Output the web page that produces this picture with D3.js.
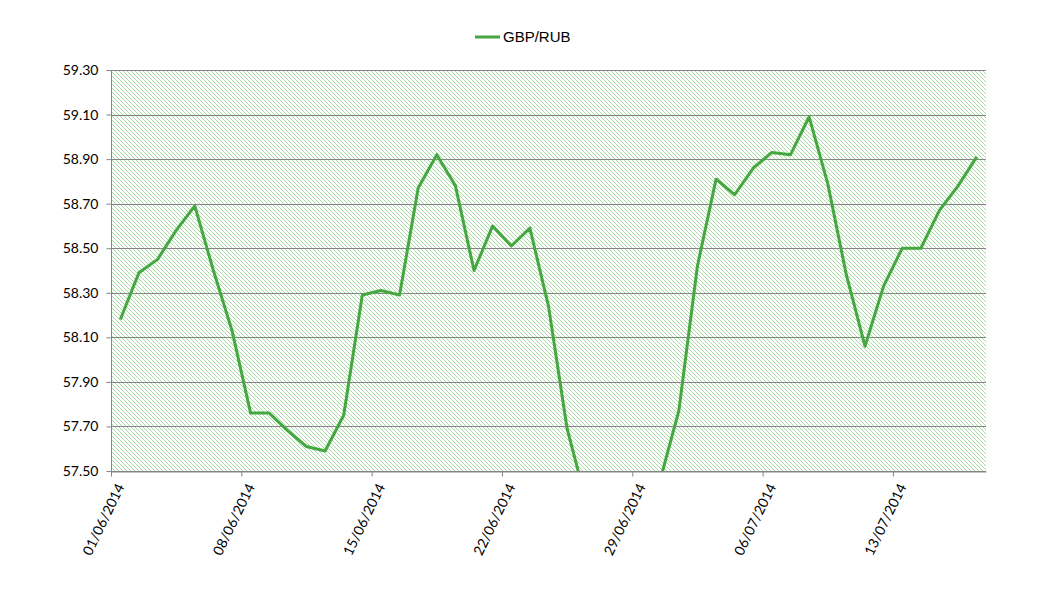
<!DOCTYPE html>
<html><head><meta charset="utf-8">
<script src="https://cdn.jsdelivr.net/npm/d3@7"></script>
<style>body{margin:0;background:#fff}svg{display:block}</style>
</head><body><svg id="c" width="1056" height="599"></svg>
<script>
const dates = ["01/06/2014","02/06/2014","03/06/2014","04/06/2014","05/06/2014","06/06/2014","07/06/2014","08/06/2014","09/06/2014","10/06/2014","11/06/2014","12/06/2014","13/06/2014","14/06/2014","15/06/2014","16/06/2014","17/06/2014","18/06/2014","19/06/2014","20/06/2014","21/06/2014","22/06/2014","23/06/2014","24/06/2014","25/06/2014","26/06/2014","27/06/2014","28/06/2014","29/06/2014","30/06/2014","01/07/2014","02/07/2014","03/07/2014","04/07/2014","05/07/2014","06/07/2014","07/07/2014","08/07/2014","09/07/2014","10/07/2014","11/07/2014","12/07/2014","13/07/2014","14/07/2014","15/07/2014","16/07/2014","17/07/2014"];
const gbpRub = [58.18,58.39,58.45,58.58,58.69,58.40,58.13,57.76,57.76,57.68,57.61,57.59,57.75,58.29,58.31,58.29,58.77,58.92,58.78,58.40,58.60,58.51,58.59,58.24,57.69,57.37,57.25,57.20,57.25,57.46,57.77,58.42,58.81,58.74,58.86,58.93,58.92,59.09,58.79,58.38,58.06,58.33,58.50,58.50,58.67,58.78,58.91];
const yTicks = [57.5,57.7,57.9,58.1,58.3,58.5,58.7,58.9,59.1,59.3];
const xTickLabels = ["01/06/2014","08/06/2014","15/06/2014","22/06/2014","29/06/2014","06/07/2014","13/07/2014"];
const seriesName = "GBP/RUB";

const svg = d3.select("#c");
const L=111, R=986, T=70, B=471;
const parse = d3.timeParse("%d/%m/%Y");
const x = d3.scaleTime().domain([parse(dates[0]), d3.timeDay.offset(parse(dates[dates.length-1]),1)]).range([L,R]);
const xc = d => x(d3.timeHour.offset(parse(d),12));
const y = d3.scaleLinear().domain([57.5,59.3]).range([B,T]);
const green="#44a73f";

const defs = svg.append("defs");
const pat = defs.append("pattern").attr("id","hatch").attr("patternUnits","userSpaceOnUse").attr("width",4).attr("height",4);
pat.append("rect").attr("width",4).attr("height",4).attr("fill","#fff");
pat.selectAll("rect.d").data([0,1,2,3]).join("rect").attr("class","d")
  .attr("x",d=>d).attr("y",d=>d).attr("width",1).attr("height",1).attr("fill","#a6dca2").attr("shape-rendering","crispEdges");
defs.append("clipPath").attr("id","clip").append("rect").attr("x",L).attr("y",T).attr("width",R-L).attr("height",B-T);

svg.append("rect").attr("x",L).attr("y",T).attr("width",R-L).attr("height",B-T).attr("fill","url(#hatch)").attr("shape-rendering","crispEdges");

// grid
svg.append("g").selectAll("line").data(yTicks).join("line")
  .attr("x1",L).attr("x2",R).attr("y1",d=>Math.round(y(d))+0.5).attr("y2",d=>Math.round(y(d))+0.5)
  .attr("stroke","#868686").attr("stroke-width",1);

// y axis
const ya = svg.append("g").attr("transform",`translate(${L+0.5},0)`)
  .call(d3.axisLeft(y).tickValues(yTicks).tickFormat(d3.format(".2f")).tickSize(5).tickPadding(8));
ya.select(".domain").attr("stroke","#868686").attr("d",`M0,${T}V${B}`);
ya.selectAll(".tick line").attr("stroke","#868686");
ya.selectAll(".tick text").attr("font-family","Lato, 'Open Sans', sans-serif").attr("font-size",14).attr("fill","#000");

// x axis
const xa = svg.append("g").attr("transform",`translate(0,${B+0.5})`)
  .call(d3.axisBottom(x).tickValues(xTickLabels.map(parse)).tickFormat(d3.timeFormat("%d/%m/%Y")).tickSize(5).tickSizeOuter(0));
xa.select(".domain").attr("stroke","#868686");
xa.selectAll(".tick line").attr("stroke","#868686");
xa.selectAll(".tick text").attr("font-family","Lato, 'Open Sans', sans-serif").attr("font-size",14).attr("fill","#000")
  .attr("text-anchor","end").attr("dy","0.35em").attr("transform","translate(9,13) rotate(-64)").attr("x",0).attr("y",0);

// line
svg.append("path").datum(dates.map((d,i)=>[xc(d),y(gbpRub[i])]))
  .attr("clip-path","url(#clip)")
  .attr("d",d3.line()).attr("fill","none").attr("stroke",green).attr("stroke-width",3).attr("stroke-linejoin","round");

// legend
const lg = svg.append("g");
lg.append("line").attr("x1",475).attr("x2",500).attr("y1",37).attr("y2",37).attr("stroke",green).attr("stroke-width",3);
lg.append("text").attr("x",503).attr("y",37).attr("dy","0.35em").text(seriesName)
  .attr("font-family","'Liberation Sans', Arial, sans-serif").attr("font-size",15).attr("fill","#000");
</script></body></html>
